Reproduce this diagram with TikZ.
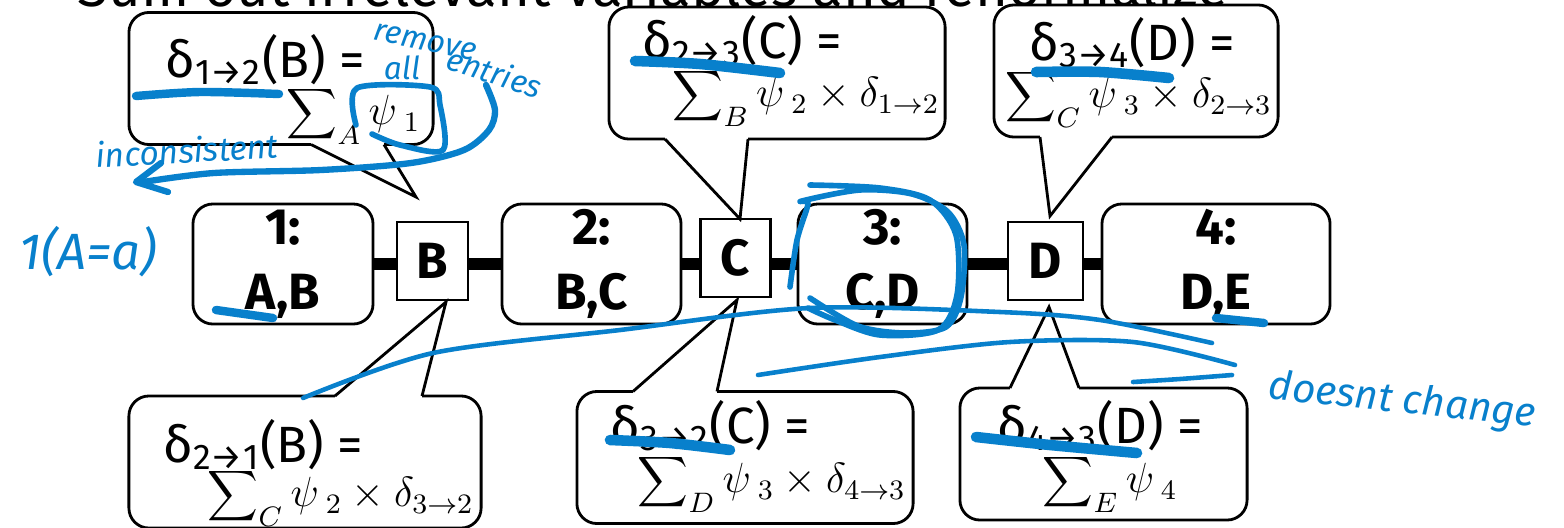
\documentclass[tikz,border=0pt]{standalone}
\usepackage{fontspec}
\setmainfont{Fira Sans}
\usetikzlibrary{calc,backgrounds}
\definecolor{inkblue}{RGB}{8,128,204}

\begin{document}
\begin{tikzpicture}[x=0.01cm, y=-0.01cm,
    cluster/.style={draw, line width=0.8pt, rounded corners=0.2cm, fill=white, minimum height=1.2cm, align=center, inner sep=0pt, font=\fontsize{14.5}{18.5}\selectfont\bfseries},
    sepset/.style={draw, line width=0.6pt, fill=white, minimum height=0.78cm, inner sep=0pt, font=\fontsize{14.5}{17}\selectfont\bfseries},
    callout/.style={draw, line width=0.8pt, rounded corners=0.2cm, fill=white, outer sep=0pt, minimum height=1.32cm},
    ptr/.style={line width=0.8pt},
    msg/.style={anchor=base west, inner sep=0pt, font=\fontsize{14.5}{17}\selectfont},
    sumline/.style={anchor=west, inner sep=0pt, font=\fontsize{12}{14}\selectfont},
    bar/.style={line width=0.12cm},
    ink/.style={draw=inkblue, line width=1.3pt, line cap=round, line join=round},
    inkthick/.style={ink, line width=2.4pt},
    hand/.style={text=inkblue, inner sep=0pt, font=\fontsize{10}{12}\selectfont\itshape}
]
\useasboundingbox (0,0) rectangle (1564,527);
\clip (0,0) rectangle (1564,527);

\node[anchor=base, font=\fontsize{16}{18}\selectfont] (title) at (653,6) {Sum out irrelevant variables and renormalize};

% clique tree
\node[cluster, minimum width=1.8cm] (c1) at (283,264) {1:\\A,B};
\node[cluster, minimum width=1.79cm] (c2) at (591.5,264) {2:\\B,C};
\node[cluster, minimum width=1.69cm] (c3) at (882.5,264) {3:\\C,D};
\node[cluster, minimum width=2.28cm] (c4) at (1216,264) {4:\\D,E};
\node[sepset, minimum width=0.71cm] (sB) at (432.5,261) {B};
\node[sepset, minimum width=0.70cm] (sC) at (735.5,258) {C};
\node[sepset, minimum width=0.75cm] (sD) at (1045.5,261) {D};
\begin{scope}[on background layer]
\draw[bar] (c1.east) -- (c4.west);
\end{scope}

% messages
\node[callout, minimum width=3.04cm] (m12) at (281,78.5) {};
\node[callout, minimum width=3.36cm] (m23) at (777,73) {};
\node[callout, minimum width=2.84cm] (m34) at (1136,71) {};
\node[callout, minimum width=3.52cm] (m21) at (305,462) {};
\node[callout, minimum width=3.36cm] (m32) at (745,457.5) {};
\node[callout, minimum width=2.87cm] (m43) at (1103.5,454) {};

\coordinate (t12) at (416,197);
\coordinate (t23) at (740,219);
\coordinate (t34) at (1050,216);
\coordinate (t21) at (446,302);
\coordinate (t32) at (737,300);
\coordinate (t43) at (1049,307);
\foreach \p/\a/\b/\t in {m12.south/30/103/t12, m23.south/-112/-29/t23, m34.south/-96/-24/t34,
                         m21.north/30/117/t21, m32.north/-112/-28/t32, m43.north/-93.5/-24.5/t43} {
  \draw[white, line width=1.4pt] ($(\p)+(\a,0)$) -- ($(\p)+(\b,0)$);
  \draw[ptr] ($(\p)+(\a,0)$) -- (\t) -- ($(\p)+(\b,0)$);
}

\node[msg] (m12a) at (165,77) {δ\textsubscript{1→2}(B) =};
\node[sumline] (m12b) at (286,115) {$\displaystyle\sum\nolimits_{A}\psi_{\;1}$};
\node[msg] (m23a) at (642,58) {δ\textsubscript{2→3}(C) =};
\node[sumline] (m23b) at (672,97) {$\displaystyle\sum\nolimits_{B}\psi_{\;2}\times\delta_{1\rightarrow 2}$};
\node[msg] (m34a) at (1029,60) {δ\textsubscript{3→4}(D) =};
\node[sumline] (m34b) at (1005,98) {$\displaystyle\sum\nolimits_{C}\psi_{\;3}\times\delta_{2\rightarrow 3}$};
\node[msg] (m21a) at (163,462) {δ\textsubscript{2→1}(B) =};
\node[sumline] (m21b) at (207,497) {$\displaystyle\sum\nolimits_{C}\psi_{\;2}\times\delta_{3\rightarrow 2}$};
\node[msg] (m32a) at (610,443) {δ\textsubscript{3→2}(C) =};
\node[sumline] (m32b) at (637,483) {$\displaystyle\sum\nolimits_{D}\psi_{\;3}\times\delta_{4\rightarrow 3}$};
\node[msg] (m43a) at (997,443) {δ\textsubscript{4→3}(D) =};
\node[sumline] (m43b) at (1042,483) {$\displaystyle\sum\nolimits_{E}\psi_{\;4}$};

% pen notes
\node[hand, font=\fontsize{9}{11}\selectfont\itshape, rotate=-12] (rm) at (425,42) {remove};
\node[hand, font=\fontsize{9}{11}\selectfont\itshape] (al) at (402,68) {all};
\node[hand, font=\fontsize{9}{11}\selectfont\itshape, rotate=-18] (en) at (495,72) {entries};
\node[hand, font=\fontsize{9.5}{11}\selectfont\itshape, rotate=3] (inc) at (187,150) {inconsistent};
\node[hand, font=\fontsize{14.5}{17}\selectfont\itshape] (ind) at (88,252) {1(A=a)};
\node[hand, font=\fontsize{11.5}{14}\selectfont\itshape, rotate=-6, anchor=west] (dc) at (1268,388) {doesnt change};

\draw[inkthick] plot[smooth] coordinates {(136,96) (200,92) (279,94)};
\draw[ink, line width=1.6pt] plot[smooth] coordinates {(356,125) (357,88) (430,87) (440,105) (443,150) (400,145) (372,134)};
\draw[ink, line width=1.8pt] plot[smooth] coordinates {(486,85) (495,110) (489,130) (464,150) (411,163) (321,170) (214,173) (143,182)};
\draw[ink, line width=1.8pt] (161,163) -- (136,182) -- (168,192);
\draw[inkthick] (216,310) -- (273,318);
\draw[inkthick, line width=3pt] plot[smooth] coordinates {(635,61) (700,64) (780,73)};
\draw[inkthick, line width=3pt] plot[smooth] coordinates {(1036,72) (1100,72) (1169,78)};
\draw[inkthick, line width=3pt] plot[smooth] coordinates {(610,440) (670,443) (730,450)};
\draw[inkthick, line width=3pt] plot[smooth] coordinates {(976,437) (1050,445) (1137,453)};
\draw[ink, line width=1.6pt] plot[smooth] coordinates {(790,287) (797,240) (808,204) (802,201) (860,190) (912,194) (948,212) (964,245) (961,297) (946,327) (905,333) (858,326) (810,298)};
\draw[ink, line width=1.6pt] plot[smooth] coordinates {(810,185) (880,188) (930,200) (956,235) (957,295) (938,330) (880,335) (835,320) (808,308)};
\draw[ink] plot[smooth] coordinates {(303,398) (433,353) (620,330) (810,308) (1000,312) (1100,320) (1212,343)};
\draw[ink] plot[smooth] coordinates {(758,375) (880,357) (1010,342) (1133,342) (1235,365)};
\draw[ink] plot[smooth] coordinates {(1133,382) (1180,379) (1232,375)};
\draw[inkthick] (1216,318) -- (1264,323);
\end{tikzpicture}
\end{document}
